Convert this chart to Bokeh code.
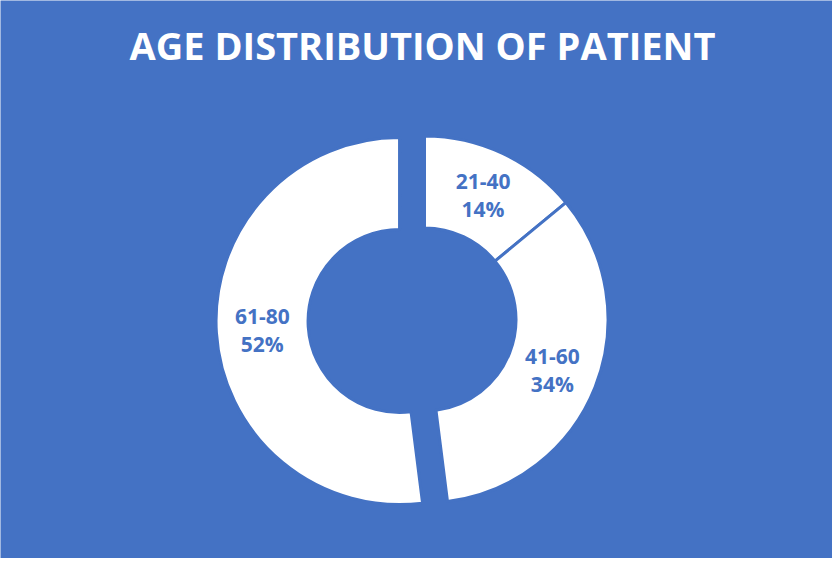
import numpy as np
from bokeh.plotting import figure
from bokeh.models import Range1d, Label, ColumnDataSource
from bokeh.core.properties import value
from bokeh.embed import file_html
from bokeh.resources import INLINE

# ---- data ----
categories = ["21-40", "41-60", "61-80"]
percent = [14, 34, 52]
exploded = [0, 0, 1]
title_text = "AGE DISTRIBUTION OF PATIENT"

# ---- style / layout ----
BG = "#4472C4"
W, H = 832, 558
CX, CY = 424, 239          # donut centre (screen-like data units)
R_OUT, R_IN = 183.5, 91.5
EXPLODE = 25
BORDER = 3

p = figure(width=W, height=H, x_range=Range1d(0, W), y_range=Range1d(0, H),
           output_backend="svg", toolbar_location=None,
           x_axis_type=None, y_axis_type=None, min_border=0)
p.background_fill_color = BG
p.border_fill_color = BG
p.outline_line_color = None
p.grid.visible = False

vals = np.array(percent, dtype=float)
frac = vals / vals.sum()
cum = np.cumsum(frac)
start = np.pi / 2 - 2 * np.pi * (cum - frac)
end = np.pi / 2 - 2 * np.pi * cum
mid = (start + end) / 2
ex = np.array(exploded, dtype=float)
xs = CX + EXPLODE * ex * np.cos(mid)
ys = CY + EXPLODE * ex * np.sin(mid)
r_mid = (R_OUT + R_IN) / 2
lx = xs + r_mid * np.cos(mid)
ly = ys + r_mid * np.sin(mid)
labels = [f"{c}\n{v:g}%" for c, v in zip(categories, percent)]

src = ColumnDataSource(dict(x=xs, y=ys, start=start, end=end, lx=lx, ly=ly,
                            label=labels, cat=categories))

p.annular_wedge(x="x", y="y", inner_radius=R_IN, outer_radius=R_OUT,
                start_angle="start", end_angle="end", direction="clock",
                fill_color="white", line_color=BG, line_width=BORDER, source=src)

p.text(x="lx", y="ly", text="label", source=src,
       text_font=value("Open Sans"), text_font_style="bold",
       text_font_size="21px", text_color=BG,
       text_align="center", text_baseline="middle", text_line_height=1.0)

p.add_layout(Label(x=422, y=514, text=title_text, text_font="Open Sans",
                   text_font_style="bold", text_font_size="38px",
                   text_color="white", text_align="center",
                   text_baseline="alphabetic"))

open("out.html", "w").write(file_html(p, INLINE))
